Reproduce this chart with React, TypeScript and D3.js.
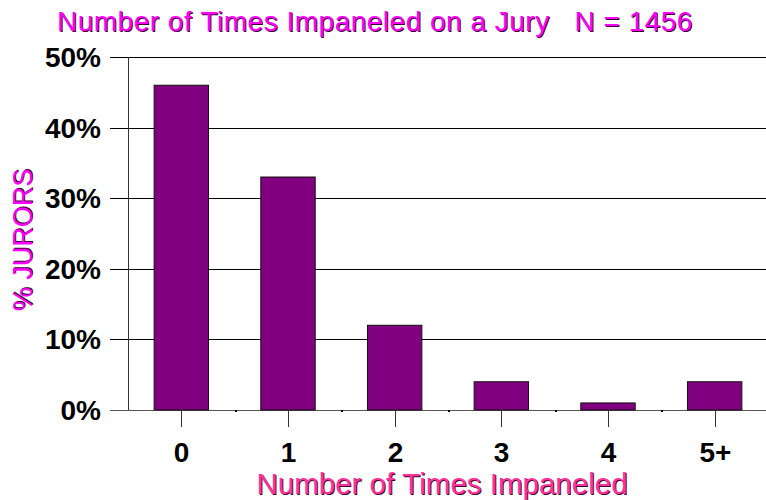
import React from "react";
import * as d3 from "d3";

const categories = ["0", "1", "2", "3", "4", "5+"];
const percents = [46, 33, 12, 4, 1, 4];
const yTicks = [0, 10, 20, 30, 40, 50];

const title = "Number of Times Impaneled on a Jury   N = 1456";
const xTitle = "Number of Times Impaneled";
const yTitle = "% JURORS";

const W = 766;
const H = 500;
const FONT = "Arial, 'Liberation Sans', sans-serif";

// text with a dark shadow like the original clip-art look
function ShadowText({ x, y, fill, size, text, rotate = 0, anchor = "start", spacing = 0 }) {
  const tr = rotate ? `rotate(${rotate},${x},${y})` : undefined;
  // keep runs of spaces (svg collapses them otherwise)
  const s = text.replace(/ /g, "\u00A0");
  return (
    <g transform={tr} fontFamily={FONT} fontSize={size} textAnchor={anchor} letterSpacing={spacing}>
      <text x={x + 1} y={y + 1} fill="#3a0030">{s}</text>
      <text x={x} y={y} fill={fill}>{s}</text>
    </g>
  );
}

export default function App() {
  const x = d3
    .scaleBand()
    .domain(categories)
    .range([128, 768])
    .paddingInner(0.49)
    .paddingOuter(0.245);
  const y = d3.scaleLinear().domain([0, 50]).range([410, 57]);
  const step = x.step();

  return (
    <svg
      width={W}
      height={H}
      style={{ position: "absolute", left: 0, top: 0, background: "#fff" }}
    >
      <ShadowText x={57} y={31} fill="#ff00ff" size={28} spacing={0.5} text={title} />

      {/* gridlines + y labels */}
      {yTicks.map((t) => (
        <g key={t}>
          <line
            x1={110}
            x2={766}
            y1={Math.round(y(t)) + 0.5}
            y2={Math.round(y(t)) + 0.5}
            stroke={t === 0 ? "#555" : "#000"}
            strokeWidth={1}
          />
          <text
            x={101}
            y={y(t) + 10}
            textAnchor="end"
            fontFamily={FONT}
            fontSize={28}
            fontWeight="bold"
            fill="#000"
          >
            {t}%
          </text>
        </g>
      ))}

      {/* y axis */}
      <line x1={128.5} x2={128.5} y1={y(50)} y2={y(0)} stroke="#333" />

      {/* bars */}
      {categories.map((c, i) => (
        <rect
          key={c}
          x={x(c)}
          y={y(percents[i])}
          width={x.bandwidth()}
          height={y(0) - y(percents[i])}
          fill="#800080"
          stroke="#111"
          strokeWidth={1}
        />
      ))}

      {/* category ticks and labels */}
      {categories.map((c) => {
        const cx = Math.round(x(c) + x.bandwidth() / 2) + 0.5;
        return (
          <g key={c}>
            <line x1={cx} x2={cx} y1={411} y2={427} stroke="#333" />
            <text
              x={cx}
              y={462}
              textAnchor="middle"
              fontFamily={FONT}
              fontSize={28}
              fontWeight="bold"
              fill="#000"
            >
              {c}
            </text>
          </g>
        );
      })}
      {/* minor marks at category boundaries */}
      {categories.slice(1).map((c) => (
        <rect key={c} x={Math.round(x(c) - (step - x.bandwidth()) / 2)} y={410} width={2} height={2} fill="#000" />
      ))}

      <ShadowText x={442} y={494} fill="#ff3399" size={29.5} anchor="middle" text={xTitle} />
      <ShadowText x={32} y={240} fill="#ff00ff" size={27} anchor="middle" rotate={-90} text={yTitle} />
    </svg>
  );
}
